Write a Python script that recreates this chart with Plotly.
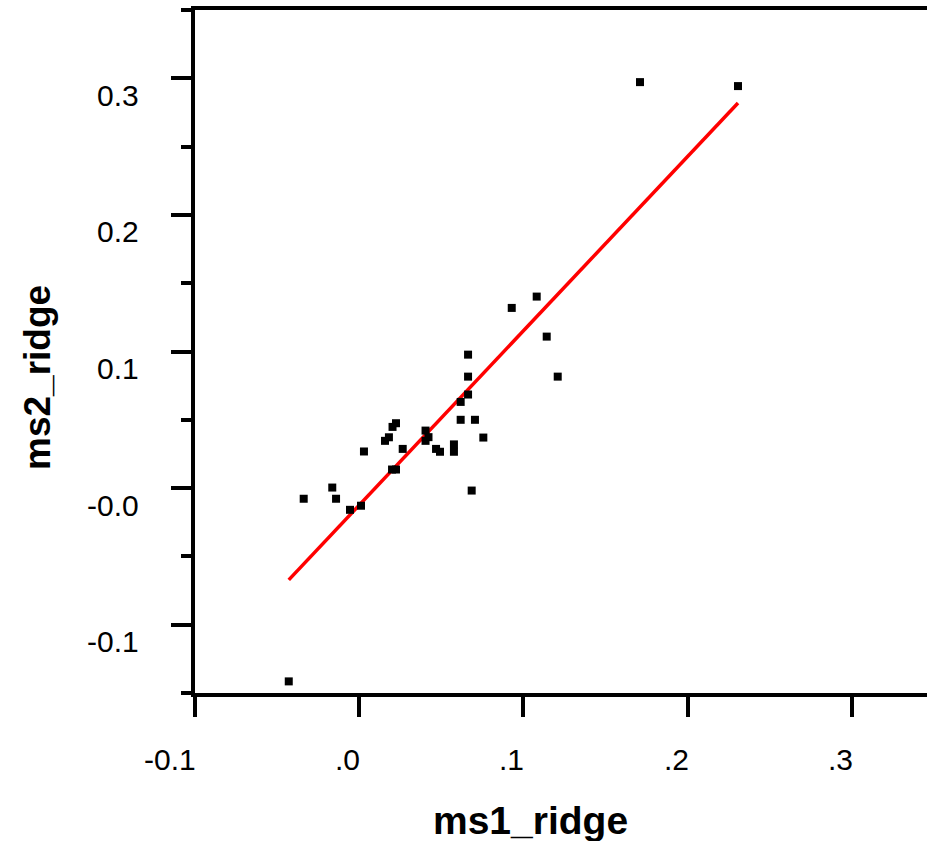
import numpy as np
import plotly.graph_objects as go

# Data
ms1_ridge = [-0.0429, -0.0338, -0.0164, -0.0141, -0.0056, 0.0011, 0.0029, 0.0157, 0.0181,
             0.0203, 0.0224, 0.0200, 0.0224, 0.0265, 0.0404, 0.0422, 0.0404, 0.0468,
             0.0492, 0.0577, 0.0577, 0.0618, 0.0705, 0.0756, 0.0618, 0.0663, 0.0663,
             0.0663, 0.0685, 0.0929, 0.1081, 0.1142, 0.1209, 0.1710, 0.2307]
ms2_ridge = [-0.1415, -0.0078, 0.0004, -0.0078, -0.0159, -0.0129, 0.0268, 0.0346, 0.0372,
             0.0448, 0.0475, 0.0136, 0.0136, 0.0287, 0.0421, 0.0373, 0.0346, 0.0287,
             0.0266, 0.0320, 0.0266, 0.0500, 0.0500, 0.0370, 0.0631, 0.0685, 0.0816,
             0.0977, -0.0018, 0.1319, 0.1402, 0.1109, 0.0816, 0.2972, 0.2943]

x_tick_vals = [-0.1, 0.0, 0.1, 0.2, 0.3]
x_tick_text = ["-0.1", ".0", ".1", ".2", ".3"]
y_tick_vals = [0.3, 0.2, 0.1, 0.0, -0.1]
y_tick_text = ["0.3", "0.2", "0.1", "-0.0", "-0.1"]
x_title = "ms1_ridge"
y_title = "ms2_ridge"

xa = np.array(ms1_ridge)
ya = np.array(ms2_ridge)
slope, intercept = np.polyfit(xa, ya, 1)
fit_x = np.array([xa.min(), xa.max()])
fit_y = intercept + slope * fit_x

fig = go.Figure()
fig.add_trace(go.Scatter(x=fit_x, y=fit_y, mode="lines",
                         line=dict(color="#ff0000", width=3.5), showlegend=False))
fig.add_trace(go.Scatter(x=ms1_ridge, y=ms2_ridge, mode="markers",
                         marker=dict(symbol="square", size=8, color="black",
                                     line=dict(width=0)),
                         showlegend=False))

FONT = "Liberation Sans, Arial, sans-serif"
annotations = []
for v, t in zip(x_tick_vals, x_tick_text):
    annotations.append(dict(x=v, xref="x", y=0, yref="paper", text=t, showarrow=False,
                            xanchor="right", yanchor="middle", xshift=3, yshift=-66,
                            font=dict(family=FONT, size=30, color="black")))
for v, t in zip(y_tick_vals, y_tick_text):
    annotations.append(dict(x=0, xref="paper", y=v, yref="y", text=t, showarrow=False,
                            xanchor="right", yanchor="middle", xshift=-54, yshift=-17,
                            font=dict(family=FONT, size=30, color="black")))
annotations.append(dict(x=0.4577, xref="paper", y=0, yref="paper", text="<b>%s</b>" % x_title,
                        showarrow=False, xanchor="center", yanchor="middle", yshift=-127,
                        font=dict(family=FONT, size=39, color="black")))
annotations.append(dict(x=0, xref="paper", y=0.4612, yref="paper", text="<b>%s</b>" % y_title,
                        showarrow=False, xanchor="center", yanchor="middle", xshift=-158,
                        textangle=-90, font=dict(family=FONT, size=37, color="black")))

fig.update_layout(
    width=927, height=841,
    margin=dict(l=195, r=0, t=10, b=148),
    paper_bgcolor="white", plot_bgcolor="white",
    font=dict(family=FONT, color="black"),
    annotations=annotations,
    xaxis=dict(range=[-0.1, 0.3458], tickvals=x_tick_vals, showticklabels=False,
               ticks="outside", ticklen=20, tickwidth=3.5, tickcolor="black",
               showline=True, linewidth=3.5, linecolor="black", mirror=True,
               showgrid=False, zeroline=False),
    yaxis=dict(range=[-0.15, 0.35], tickvals=y_tick_vals, showticklabels=False,
               ticks="outside", ticklen=20, tickwidth=3.5, tickcolor="black",
               showline=True, linewidth=3.5, linecolor="black", mirror=False,
               showgrid=False, zeroline=False,
               minor=dict(tickmode="linear", tick0=-0.15, dtick=0.05, ticks="outside",
                          ticklen=10, tickwidth=3.5, tickcolor="black", showgrid=False)),
)

fig.write_html("out.html", config={"displayModeBar": False},
               post_script="document.body.style.margin='0';document.body.style.padding='0';"
                           "document.body.style.overflow='hidden';")
